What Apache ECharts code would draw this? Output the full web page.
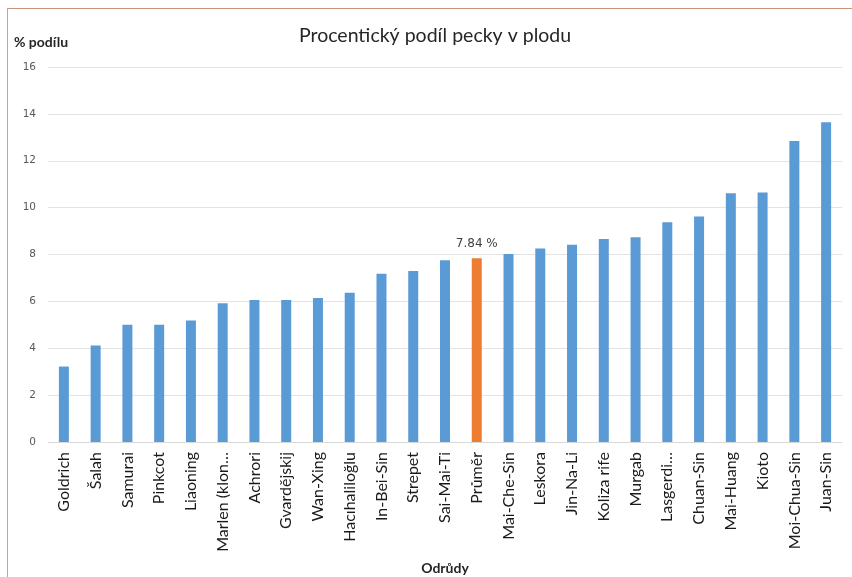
<!DOCTYPE html>
<html>
<head>
<meta charset="utf-8">
<script src="https://cdn.jsdelivr.net/npm/echarts@6/dist/echarts.min.js"></script>
<style>
  html, body { margin: 0; padding: 0; background: #fff; overflow: hidden; width: 852px; height: 577px; }
  #frame { position: absolute; left: 7px; top: 8px; width: 844px; height: 568px;
           border-left: 1px solid #d2a27e; border-top: 1px solid #c8957a; }
  #main { position: absolute; left: 0; top: 0; width: 852px; height: 577px; }
</style>
</head>
<body>
<div id="frame"></div>
<div id="main"></div>
<script>
// odrůdy
var categories = ['Goldrich', 'Šalah', 'Samurai', 'Pinkcot', 'Liaoning', 'Marlen (klon…',
  'Achrori', 'Gvardějskij', 'Wan-Xing', 'Hacıhaliloğlu', 'In-Bei-Sin', 'Strepet',
  'Sai-Mai-Ti', 'Průměr', 'Mai-Che-Sin', 'Leskora', 'Jin-Na-Li', 'Koliza rife',
  'Murgab', 'Lasgerdi…', 'Chuan-Sin', 'Mai-Huang', 'Kioto', 'Moi-Chua-Sin', 'Juan-Sin'];
// procentický podíl pecky
var values = [3.22, 4.12, 5.0, 5.0, 5.18, 5.92, 6.06, 6.06, 6.14, 6.37, 7.18, 7.3,
  7.76, 7.84, 8.02, 8.26, 8.42, 8.66, 8.74, 9.38, 9.62, 10.61, 10.65, 12.84, 13.64];
var averageName = 'Průměr';

var myChart = echarts.init(document.getElementById('main'));

var barData = values.map(function (v, i) {
  if (categories[i] === averageName) {
    return {
      value: v,
      itemStyle: { color: '#ed7d31' },
      label: { show: true, formatter: '{c} %', position: 'top', distance: 8,
               color: '#404040', fontSize: 12, fontFamily: 'DejaVu Sans' }
    };
  }
  return v;
});

myChart.setOption({
  backgroundColor: 'transparent',
  title: {
    text: 'Procentický podíl pecky v plodu',
    left: 430, top: 21, textAlign: 'center',
    textStyle: { color: '#262626', fontSize: 19.5, fontWeight: 'normal', fontFamily: 'Lato' }
  },
  grid: { left: 48, right: 10, top: 67, bottom: 135, containLabel: false, outerBoundsMode: 'none' },
  xAxis: {
    type: 'category',
    data: categories,
    name: 'Odrůdy',
    nameLocation: 'middle',
    nameGap: 119,
    nameTextStyle: { color: '#262626', fontSize: 14, fontWeight: 'bold', fontFamily: 'Lato' },
    axisLine: { lineStyle: { color: '#d9d9d9' } },
    axisTick: { show: false },
    axisLabel: { rotate: 90, interval: 0, margin: 10, color: '#1a1a1a', fontSize: 16, fontFamily: 'Lato' }
  },
  yAxis: {
    type: 'value',
    min: 0, max: 16, interval: 2,
    name: '% podílu',
    nameLocation: 'end',
    nameGap: 18,
    nameTextStyle: { color: '#262626', fontSize: 14, fontWeight: 'bold', fontFamily: 'Lato',
                     align: 'left', padding: [0, 0, 0, -34] },
    axisLine: { show: false },
    axisTick: { show: false },
    axisLabel: { color: '#595959', fontSize: 10.5, fontFamily: 'DejaVu Sans', margin: 12 },
    splitLine: { lineStyle: { color: '#e3e3e3' } }
  },
  series: [{
    type: 'bar',
    data: barData,
    barWidth: 10,
    itemStyle: { color: '#5b9bd5' }
  }]
});
</script>
</body>
</html>
